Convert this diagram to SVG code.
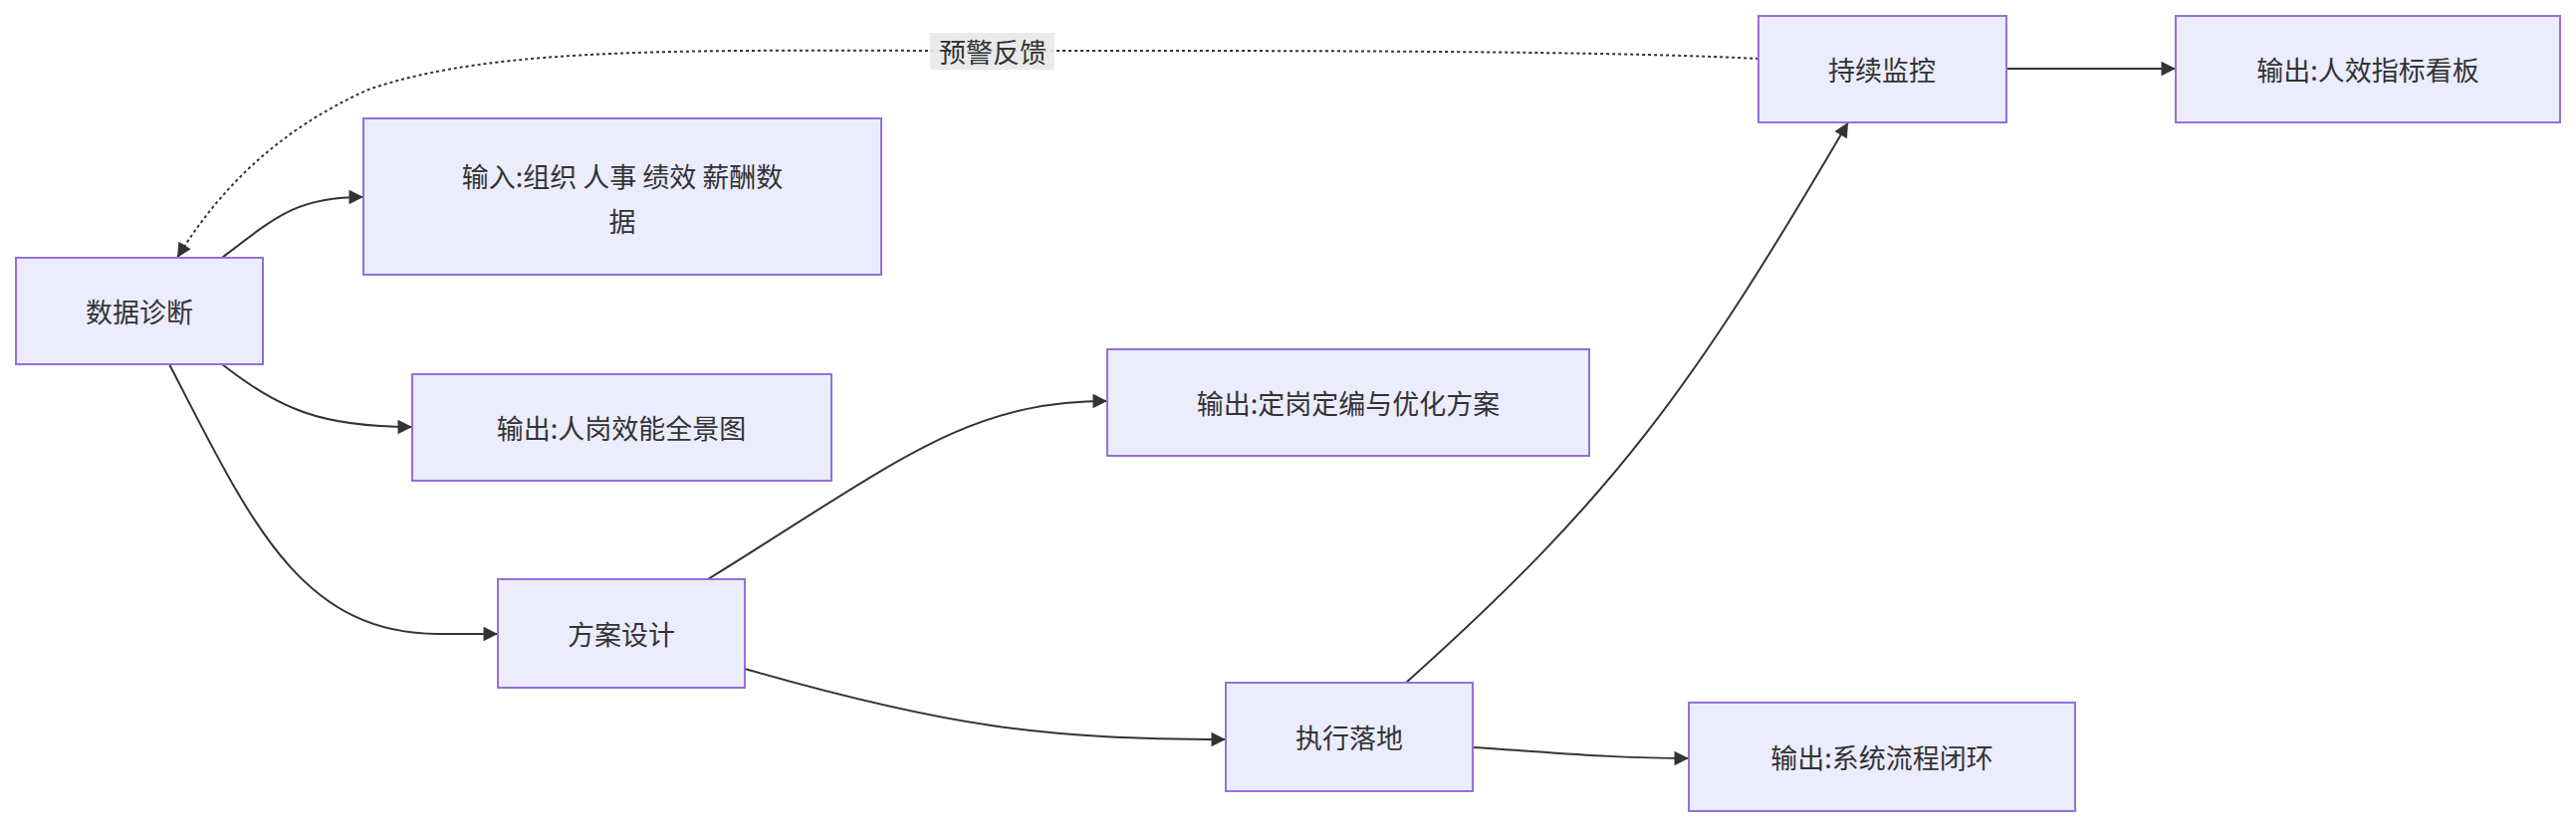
<svg xmlns="http://www.w3.org/2000/svg" width="2587" height="832" viewBox="0 0 2587 832">
<style>
.n rect{fill:#ECECFF;stroke:#9370DB;stroke-width:2}
.n text{font-family:"Noto Sans CJK SC","Liberation Sans",sans-serif;font-size:27px;fill:#333;text-anchor:middle;dominant-baseline:central}
.e{fill:none;stroke:#333;stroke-width:2;marker-end:url(#ah)}
.d{stroke-dasharray:3 3}
.lbl{font-family:"Noto Sans CJK SC","Liberation Sans",sans-serif;font-size:27px;fill:#333;text-anchor:middle;dominant-baseline:central}
</style>
<defs><marker id="ah" viewBox="0 0 10 10" refX="10" refY="5" markerWidth="8" markerHeight="8" markerUnits="userSpaceOnUse" orient="auto" style="overflow:visible"><path d="M0,0L10,5L0,10z" fill="#333" transform="scale(1.8) translate(-4.5,-2.2)"/></marker></defs>
<rect width="2587" height="832" fill="#fff"/>
<g id="edges">
<path class="e" d="M223,259 C280,215 300,198 365,198"/>
<path class="e" d="M223,366 C280,410 320,429 414,429"/>
<path class="e" d="M170,366 C250,520 300,637 440,637 L500,637"/>
<path class="e" d="M711,582 C900,465 970,403 1112,403"/>
<path class="e" d="M748,672 C950,730 1050,743 1231,743"/>
<path class="e" d="M1412,686 C1620,500 1700,390 1856,123"/>
<path class="e" d="M1479,751 C1560,756 1620,762 1696,762"/>
<path class="e" d="M2015,69 L2185,69"/>
<path class="e d" d="M1766,59 C1600,50 1200,51 998,51 C700,51 500,45 370,90 C280,130 220,190 178,259"/>
<rect x="934" y="33" width="125" height="37" fill="#e8e8e8" opacity="0.9"/>
<text class="lbl" x="997" y="51">预警反馈</text>
</g>
<g id="n1" class="n"><rect x="16" y="259" width="248" height="107"/><text x="140" y="312">数据诊断</text></g>
<g id="n2" class="n"><rect x="365" y="119" width="520" height="157"/><text x="625" y="176">输入:组织 人事 绩效 薪酬数</text><text x="625" y="221">据</text></g>
<g id="n3" class="n"><rect x="414" y="376" width="421" height="107"/><text x="624" y="429">输出:人岗效能全景图</text></g>
<g id="n4" class="n"><rect x="500" y="582" width="248" height="109"/><text x="624" y="636">方案设计</text></g>
<g id="n5" class="n"><rect x="1112" y="351" width="484" height="107"/><text x="1354" y="404">输出:定岗定编与优化方案</text></g>
<g id="n6" class="n"><rect x="1231" y="686" width="248" height="109"/><text x="1355" y="740">执行落地</text></g>
<g id="n7" class="n"><rect x="1696" y="706" width="388" height="109"/><text x="1890" y="760">输出:系统流程闭环</text></g>
<g id="n8" class="n"><rect x="1766" y="16" width="249" height="107"/><text x="1890" y="69">持续监控</text></g>
<g id="n9" class="n"><rect x="2185" y="16" width="386" height="107"/><text x="2378" y="69">输出:人效指标看板</text></g>
</svg>
